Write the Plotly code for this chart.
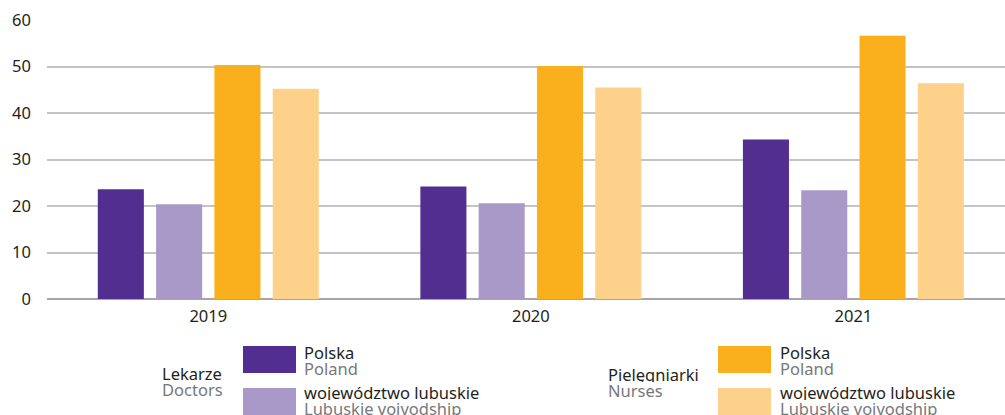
import plotly.graph_objects as go

years = ["2019", "2020", "2021"]
doctors_poland = [23.6, 24.2, 34.3]
doctors_lubuskie = [20.4, 20.6, 23.4]
nurses_poland = [50.3, 50.1, 56.6]
nurses_lubuskie = [45.2, 45.5, 46.4]

series_names = ["Lekarze Polska", "Lekarze lubuskie", "Pielęgniarki Polska", "Pielęgniarki lubuskie"]
colors = ["#522e91", "#a899c8", "#f9b01c", "#fdd18a"]

W, H = 1005, 415
L, R, T, B = 47, 0, 20, 116
PW, PH = W - L - R, H - T - B

def px(x):
    return (x - L) / PW

def py(y):
    return (H - B - y) / PH

FONT = "Noto Sans"
fig = go.Figure()
for name, vals, c in zip(series_names, [doctors_poland, doctors_lubuskie, nurses_poland, nurses_lubuskie], colors):
    fig.add_trace(go.Bar(x=years, y=vals, name=name, marker=dict(color=c, line=dict(width=0)), showlegend=False))

shapes = []
annotations = []

def swatch(x0, y0, x1, y1, color):
    shapes.append(dict(type="rect", xref="paper", yref="paper", x0=px(x0), x1=px(x1), y0=py(y1), y1=py(y0),
                       fillcolor=color, line=dict(width=0)))

def label(x, y, text, color):
    annotations.append(dict(xref="paper", yref="paper", x=px(x), y=py(y), text=text, showarrow=False,
                            xanchor="left", yanchor="middle", height=15,
                            font=dict(family=FONT, size=16.5, color=color)))

black, gray = "#231f20", "#77787b"
# Doctors
label(160, 373, "Lekarze", black)
label(160, 389, "Doctors", gray)
swatch(243, 346, 296, 373, colors[0])
swatch(243, 388, 296, 420, colors[1])
label(302, 352, "Polska", black)
label(302, 368, "Poland", gray)
label(302, 392, "województwo lubuskie", black)
label(302, 408, "Lubuskie voivodship", gray)
# Nurses
label(606, 374, "Pielęgniarki", black)
label(606, 390, "Nurses", gray)
swatch(718, 346, 771, 373, colors[2])
swatch(718, 388, 771, 420, colors[3])
label(778, 352, "Polska", black)
label(778, 368, "Poland", gray)
label(778, 392, "województwo lubuskie", black)
label(778, 408, "Lubuskie voivodship", gray)

fig.update_layout(
    width=W, height=H,
    margin=dict(l=L, r=R, t=T, b=B, pad=0, autoexpand=False),
    paper_bgcolor="white", plot_bgcolor="white",
    barmode="group", bargap=0.277, bargroupgap=0.21,
    font=dict(family=FONT, size=16.5, color="#231f20"),
    shapes=shapes, annotations=annotations,
    xaxis=dict(type="category", range=[-0.5, 2.47], showgrid=False, showline=False, ticks="",
               tickfont=dict(size=16.5, color="#231f20"), ticklabelstandoff=5),
    yaxis=dict(range=[0, 60], dtick=10, showgrid=True, gridcolor="#c4c4c4", gridwidth=1.5,
               zeroline=True, zerolinecolor="#a6a6a6", zerolinewidth=2, showline=False,
               ticks="", tickfont=dict(size=16.5, color="#231f20"), ticklabelstandoff=15),
)
fig.write_html("out.html", config={"displayModeBar": False},
               post_script="document.body.style.margin='0';document.body.style.overflow='hidden';")
